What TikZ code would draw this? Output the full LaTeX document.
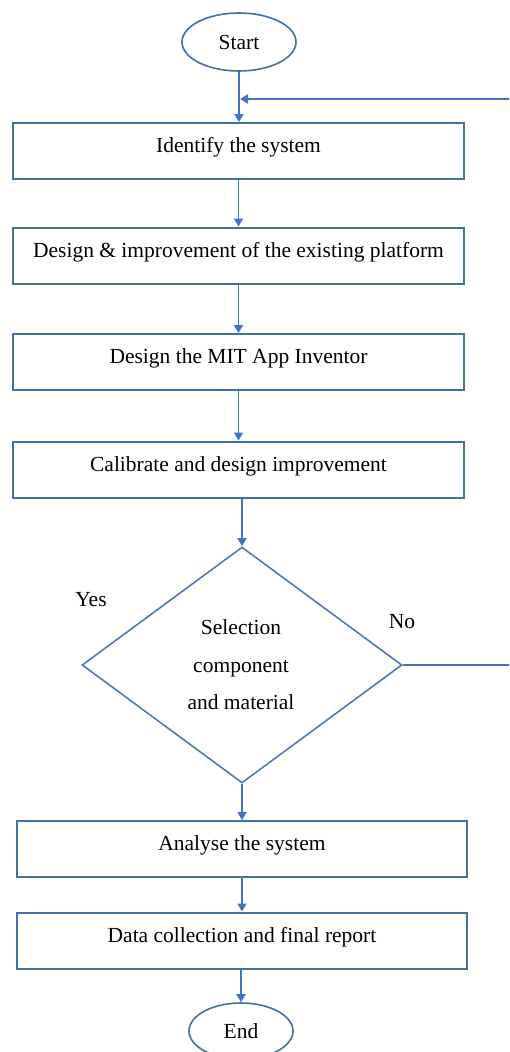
\documentclass[tikz,border=0pt]{standalone}
\usepackage{fontspec}
\setmainfont{Liberation Serif}
\usetikzlibrary{shapes.geometric,arrows.meta}
\definecolor{boxline}{HTML}{41719C}
\definecolor{diaaline}{HTML}{5079B4}
\definecolor{arrowc}{HTML}{4472C4}
\begin{document}
\begin{tikzpicture}[x=1pt,y=-1pt,
  every node/.style={font=\fontsize{21.5}{26}\selectfont, text=black},
  stepbox/.style={draw=boxline, line width=2pt, rectangle, minimum width=451pt, minimum height=56pt, inner sep=0pt, text height=29.5pt, text depth=26.5pt},
  term/.style={draw=boxline, line width=1.6pt, ellipse, minimum width=114pt, minimum height=58pt, inner sep=0pt},
  arr/.style={draw=arrowc, line width=1.8pt, -{Triangle[width=9pt,length=8pt]}},
  ln/.style={draw=arrowc, line width=1.8pt},
  lbl/.style={inner sep=0pt}]
\useasboundingbox (0,0) rectangle (509,1052);
\clip (0,0) rectangle (509,1052);
\fill[white] (0,0) rectangle (509,1052);

\node[term] (s) at (239,42) {Start};
\node[stepbox] (b1) at (238.5,151) {Identify the system};
\node[stepbox] (b2) at (238.5,255.5) {Design \& improvement of the existing platform};
\node[stepbox] (b3) at (238.5,362) {Design the MIT App Inventor};
\node[stepbox] (b4) at (238.5,469.5) {Calibrate and design improvement};
\node[diamond, draw=diaaline, line width=1.6pt, minimum width=320pt, minimum height=236pt, inner sep=0pt] (d) at (242,665) {};
\node[align=center, font=\fontsize{21.5}{37.5}\selectfont] (dt) at (241,665) {Selection\\component\\and material};
\node[stepbox, minimum width=450pt] (b5) at (242,849) {Analyse the system};
\node[stepbox, minimum width=450pt] (b6) at (242,940.5) {Data collection and final report};
\node[term, minimum width=104pt, minimum height=56pt] (e) at (241,1031) {End};

\node[lbl] (yes) at (91,600) {Yes};
\node[lbl] (no) at (402,622) {No};

\coordinate (fb) at (512,99);
\coordinate (nr) at (512,665);

\draw[arr] (s.south) -- (s.south |- b1.north);
\draw[arr] (fb) -- ([xshift=1pt]fb -| s.south);
\draw[arr] (b1.south) -- (b2.north);
\draw[arr] (b2.south) -- (b3.north);
\draw[arr] (b3.south) -- (b4.north);
\draw[arr] (b4.south -| d.north) -- (d.north);
\draw[arr] (d.south) -- (d.south |- b5.north);
\draw[arr] (b5.south) -- (b6.north);
\draw[arr] (b6.south -| e.north) -- (e.north);
\draw[ln] (d.east) -- (nr);
\end{tikzpicture}
\end{document}
